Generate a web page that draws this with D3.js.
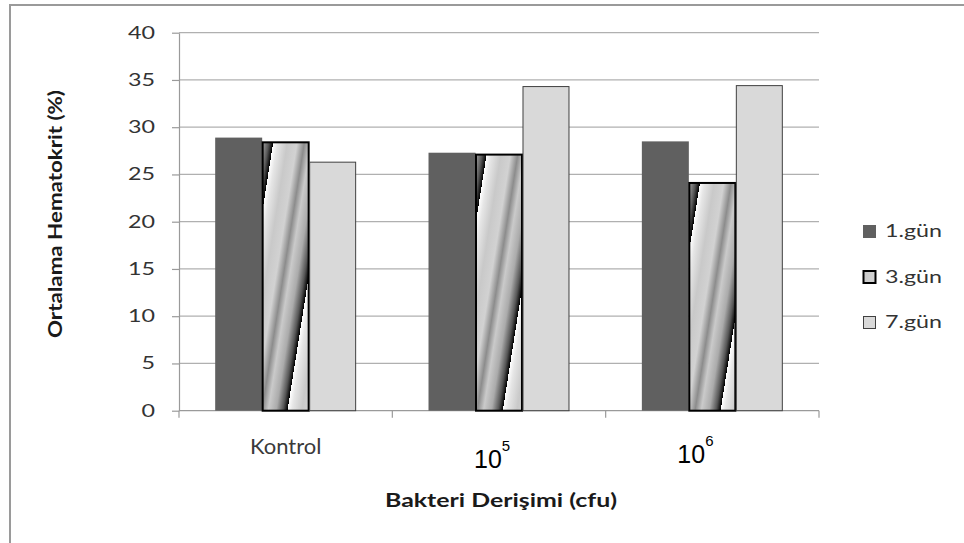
<!DOCTYPE html>
<html lang="tr">
<head>
<meta charset="utf-8">
<title>Ortalama Hematokrit</title>
<style>
  body { margin: 0; padding: 0; background: #fff; }
  svg { display: block; }
  .tick-label { font-family: Lato, "Open Sans", sans-serif; font-size: 17px; fill: #333; }
  .title { font-family: Lato, "Open Sans", sans-serif; font-size: 18px; font-weight: bold; fill: #1a1a1a; }
  .legend text { font-family: Lato, "Open Sans", sans-serif; font-size: 17px; fill: #333; }
</style>
</head>
<body>
<div id="chart"></div>
<script src="https://cdn.jsdelivr.net/npm/d3@7/dist/d3.min.js"></script>
<script>

const categories = ["Kontrol", "10^5", "10^6"];
const categoryBase = ["Kontrol", "10", "10"];
const categoryExp = ["", "5", "6"];
const series = ["1.gün", "3.gün", "7.gün"];
const gun1 = [28.9, 27.3, 28.5];
const gun3 = [28.4, 27.1, 24.1];
const gun7 = [26.3, 34.3, 34.4];
const yTicks = [0, 5, 10, 15, 20, 25, 30, 35, 40];

const values = [gun1, gun3, gun7];

const width = 964,
    height = 543,
    plot = {left: 179, right: 819, top: 32.7, bottom: 410.7},
    stretch = 1.37;

const svg = d3.select("#chart")
    .append("svg")
    .attr("width", width)
    .attr("height", height);

// outer frame: only top and left edges are visible in the picture
svg.append("path")
    .attr("d", "M10," + height + "V5H" + width)
    .attr("fill", "none")
    .attr("stroke", "#9a9a9a")
    .attr("stroke-width", 2);

const x0 = d3.scaleBand()
    .domain(categories)
    .range([plot.left, plot.right])
    .padding(0);

const x1 = d3.scaleBand()
    .domain(series)
    .range([0, x0.bandwidth()])
    .paddingInner(0)
    .paddingOuter(0.77);

const y = d3.scaleLinear()
    .domain([0, 40])
    .range([plot.bottom, plot.top]);

// gridlines
svg.append("g")
    .selectAll("line")
    .data(yTicks.filter(function(d){ return d > 0; }))
    .enter()
    .append("line")
    .attr("x1", plot.left)
    .attr("x2", plot.right)
    .attr("y1", function(d){ return y(d); })
    .attr("y2", function(d){ return y(d); })
    .attr("stroke", "#b0b0b0")
    .attr("stroke-width", 1.2);

// y axis
const yAxis = d3.axisLeft(y)
    .tickValues(yTicks)
    .tickSizeInner(7)
    .tickSizeOuter(0)
    .tickFormat("");

const gY = svg.append("g")
    .attr("transform", "translate(" + plot.left + ",0)")
    .call(yAxis);
gY.selectAll("path, line").attr("stroke", "#9a9a9a").attr("stroke-width", 1.2);

svg.append("g")
    .selectAll("text")
    .data(yTicks)
    .enter()
    .append("text")
    .attr("class", "tick-label")
    .attr("text-anchor", "end")
    .attr("transform", function(d){ return "translate(155," + (y(d) + 6) + ") scale(" + stretch + ",1)"; })
    .text(function(d){ return d; });

// x axis line with ticks on category boundaries
const bounds = categories.map(function(c){ return x0(c); }).concat([plot.right]);
const gX = svg.append("g");
gX.append("line")
    .attr("x1", plot.left).attr("x2", plot.right)
    .attr("y1", plot.bottom).attr("y2", plot.bottom)
    .attr("stroke", "#9a9a9a").attr("stroke-width", 1.2);
gX.selectAll(".xt")
    .data(bounds)
    .enter()
    .append("line")
    .attr("class", "xt")
    .attr("x1", function(d){ return d; }).attr("x2", function(d){ return d; })
    .attr("y1", plot.bottom).attr("y2", plot.bottom + 7)
    .attr("stroke", "#9a9a9a").attr("stroke-width", 1.2);

// bars
const defs = svg.append("defs");
const barData = [];
categories.forEach(function(c, ci){
    series.forEach(function(s, si){
        barData.push({cat: c, ser: s, si: si, ci: ci, value: values[si][ci]});
    });
});

const stripeStops = [
    [0, "#ffffff"], [0.08, "#e6e6e6"], [0.25, "#c9c9c9"], [0.42, "#d2d2d2"],
    [0.55, "#8c8c8c"], [0.66, "#cacaca"], [0.8, "#ababab"], [0.92, "#575757"], [1, "#000000"]
];
const angle = 9 * Math.PI / 180, period = 56;

function stripeGradient(id, px, py) {
    const g = defs.append("linearGradient")
        .attr("id", id)
        .attr("gradientUnits", "userSpaceOnUse")
        .attr("spreadMethod", "repeat")
        .attr("x1", px).attr("y1", py)
        .attr("x2", px + period * Math.cos(angle))
        .attr("y2", py + period * Math.sin(angle));
    g.selectAll("stop")
        .data(stripeStops)
        .enter()
        .append("stop")
        .attr("offset", function(d){ return d[0]; })
        .attr("stop-color", function(d){ return d[1]; });
}

barData.forEach(function(d){
    if (d.si === 1) {
        d.grad = "stripe" + d.ci;
        stripeGradient(d.grad, x0(d.cat) + x1(d.ser), y(d.value) + 70);
    }
});

const fills = ["#606060", null, "#d9d9d9"];
const strokes = ["none", "#000", "#404040"];
const strokeW = [0, 2, 1];

svg.append("g")
    .selectAll("rect")
    .data(barData)
    .enter()
    .append("rect")
    .attr("x", function(d){ return x0(d.cat) + x1(d.ser) + (d.si === 0 ? 0 : 0.5); })
    .attr("y", function(d){ return y(d.value); })
    .attr("width", function(d){ return x1.bandwidth() - (d.si === 0 ? 0 : 1); })
    .attr("height", function(d){ return plot.bottom - y(d.value); })
    .attr("fill", function(d){ return d.si === 1 ? "url(#" + d.grad + ")" : fills[d.si]; })
    .attr("stroke", function(d){ return strokes[d.si]; })
    .attr("stroke-width", function(d){ return strokeW[d.si]; });

// category labels
const labelDx = [0, -25, -35],
    labelY = [454, 468, 463];

const catLabels = svg.append("g")
    .selectAll("text")
    .data(categories)
    .enter()
    .append("text")
    .attr("x", function(d, i){ return x0(d) + x0.bandwidth() / 2 + labelDx[i]; })
    .attr("y", function(d, i){ return labelY[i]; })
    .attr("text-anchor", function(d, i){ return categoryExp[i] ? "start" : "middle"; })
    .style("font-family", function(d, i){ return categoryExp[i] ? "'Liberation Sans', Arial, sans-serif" : "Lato, 'Open Sans', sans-serif"; })
    .style("font-size", function(d, i){ return categoryExp[i] ? "25px" : "22px"; })
    .style("fill", function(d, i){ return categoryExp[i] ? "#000" : "#3a3a3a"; });

catLabels.append("tspan")
    .text(function(d, i){ return categoryBase[i]; });
catLabels.filter(function(d, i){ return categoryExp[i]; })
    .append("tspan")
    .attr("dy", -17)
    .style("font-size", "15px")
    .text(function(d){ return categoryExp[categories.indexOf(d)]; });

// axis titles
svg.append("text")
    .attr("class", "title")
    .attr("text-anchor", "middle")
    .attr("transform", "translate(62,214) rotate(-90)")
    .attr("textLength", 248)
    .attr("lengthAdjust", "spacingAndGlyphs")
    .text("Ortalama Hematokrit (%)");

svg.append("text")
    .attr("class", "title")
    .attr("text-anchor", "middle")
    .attr("x", 501)
    .attr("y", 507)
    .attr("textLength", 232)
    .attr("lengthAdjust", "spacingAndGlyphs")
    .text("Bakteri Derişimi (cfu)");

// legend
const legend = svg.append("g").attr("class", "legend");
const legendY = d3.scalePoint().domain(series).range([231, 322]);

stripeGradient("stripeLegend", 864, 270);

const items = legend.selectAll("g")
    .data(series)
    .enter()
    .append("g")
    .attr("transform", function(d){ return "translate(0," + legendY(d) + ")"; });

items.append("rect")
    .attr("x", function(d, i){ return i === 0 ? 863 : 863.5; })
    .attr("y", function(d, i){ return i === 0 ? -6 : -5.5; })
    .attr("width", function(d, i){ return i === 0 ? 13 : 12; })
    .attr("height", function(d, i){ return i === 0 ? 13 : 12; })
    .attr("fill", function(d, i){ return i === 1 ? "url(#stripeLegend)" : fills[i]; })
    .attr("stroke", function(d, i){ return strokes[i]; })
    .attr("stroke-width", function(d, i){ return strokeW[i]; });

items.append("text")
    .attr("transform", "translate(885,6) scale(" + stretch + ",1)")
    .text(function(d){ return d; });

</script>
</body>
</html>
